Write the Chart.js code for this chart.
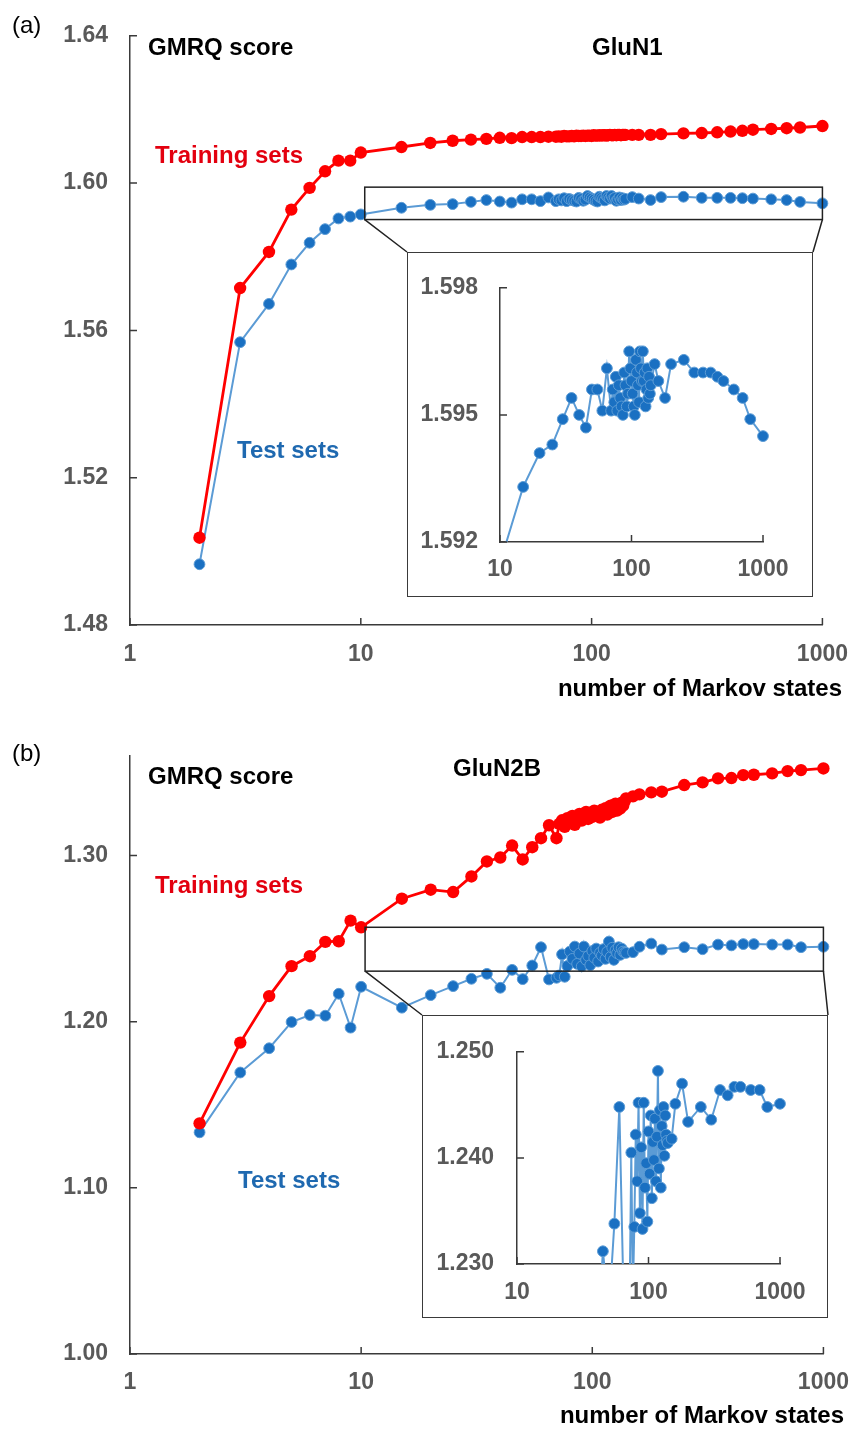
<!DOCTYPE html>
<html>
<head>
<meta charset="utf-8">
<script src="https://cdn.jsdelivr.net/npm/chart.js@4.4.1/dist/chart.umd.min.js"></script>
<style>
  html, body { margin: 0; padding: 0; background: #fff; }
  #page { position: relative; width: 864px; height: 1430px; overflow: hidden; font-family: "Liberation Sans", Arial, sans-serif; }
  canvas { position: absolute; }
  .frame { position: absolute; box-sizing: border-box; border: 1.5px solid #3a3a3a; background: #fff; }
  .txt { position: absolute; font-size: 24px; line-height: 24px; font-weight: bold; white-space: nowrap; }
</style>
</head>
<body>
<div id="page">
  <canvas id="mainA" width="864" height="700" style="left:0;top:0"></canvas>
  <canvas id="mainB" width="864" height="710" style="left:0;top:720px"></canvas>
  <div class="frame" style="left:407px;top:252px;width:406px;height:345px"></div>
  <canvas id="insetA" width="406" height="345" style="left:407px;top:252px"></canvas>
  <div class="frame" style="left:422px;top:1015px;width:406px;height:303px"></div>
  <canvas id="insetB" width="406" height="303" style="left:422px;top:1015px"></canvas>

  <div class="txt" style="left:12px;top:13px;font-weight:normal;color:#000">(a)</div>
  <div class="txt" style="left:148px;top:35px;color:#000">GMRQ score</div>
  <div class="txt" style="left:592px;top:35px;color:#000">GluN1</div>
  <div class="txt" style="left:155px;top:143px;color:#e3000f">Training sets</div>
  <div class="txt" style="left:237px;top:438px;color:#1f69b0">Test sets</div>
  <div class="txt" style="right:22px;top:676px;color:#000">number of Markov states</div>

  <div class="txt" style="left:12px;top:741px;font-weight:normal;color:#000">(b)</div>
  <div class="txt" style="left:148px;top:764px;color:#000">GMRQ score</div>
  <div class="txt" style="left:453px;top:756px;color:#000">GluN2B</div>
  <div class="txt" style="left:155px;top:873px;color:#e3000f">Training sets</div>
  <div class="txt" style="left:238px;top:1168px;color:#1f69b0">Test sets</div>
  <div class="txt" style="right:20px;top:1403px;color:#000">number of Markov states</div>
</div>
<script>
// number of Markov states (shared by all series)
const states = [2, 3, 4, 5, 6, 7, 8, 9, 10, 15, 20, 25, 30, 35, 40, 45, 50, 55, 60, 65, 70,
  72, 74, 76, 78, 80, 82, 84, 86, 88, 90, 92, 94, 96, 98, 100, 102, 104, 106, 108, 110,
  112, 114, 116, 118, 120, 122, 124, 126, 128, 130, 132, 134, 136, 138,
  140, 150, 160, 180, 200, 250, 300, 350, 400, 450, 500, 600, 700, 800, 1000];

const glun1Train = [1.5037, 1.5715, 1.5813, 1.5928, 1.5987, 1.6032, 1.6061, 1.6061, 1.6083, 1.6098,
  1.6109, 1.6115, 1.6118, 1.6120, 1.6123, 1.6122, 1.6125, 1.6125, 1.6125, 1.6126, 1.6126,
  1.6127, 1.6126, 1.6128, 1.6127, 1.6127, 1.6128, 1.6127, 1.6129, 1.6128, 1.6128, 1.6129, 1.6128,
  1.6129, 1.6129, 1.6128, 1.6130, 1.6129, 1.6129, 1.6130, 1.6129, 1.6130, 1.6130, 1.6129, 1.6130,
  1.6131, 1.6130, 1.6130, 1.6131, 1.6130, 1.6131, 1.6131, 1.6130, 1.6131, 1.6131,
  1.6131, 1.6131, 1.6131, 1.6131, 1.6133, 1.6135, 1.6136, 1.6138, 1.6140, 1.6142, 1.6145, 1.6147,
  1.6149, 1.6151, 1.6155];

const glun1Test = [1.4965, 1.5568, 1.5672, 1.5779, 1.5838, 1.5875, 1.5904, 1.5909, 1.5915, 1.5933,
  1.5941, 1.5943, 1.5949, 1.5954, 1.5950, 1.5947, 1.5956, 1.5956, 1.5951, 1.5961, 1.5951,
  1.5956, 1.5953, 1.5959, 1.5951, 1.5957, 1.5954, 1.5952, 1.5950, 1.5960, 1.5957, 1.5952, 1.5955,
  1.5965, 1.5961, 1.5958, 1.5955, 1.5952, 1.5950, 1.5963, 1.5960, 1.5957, 1.5953, 1.5965, 1.5961,
  1.5958, 1.5965, 1.5958, 1.5960, 1.5952, 1.5956, 1.5961, 1.5954, 1.5959, 1.5955,
  1.5957, 1.5962, 1.5958, 1.5954, 1.5962, 1.5963, 1.5960, 1.5960, 1.5960, 1.5959, 1.5958, 1.5956,
  1.5954, 1.5949, 1.5945];

const glun2bTrain = [1.1388, 1.1874, 1.2154, 1.2334, 1.2394, 1.2480, 1.2484, 1.2608, 1.2568, 1.2740,
  1.2794, 1.2780, 1.2874, 1.2964, 1.2988, 1.3060, 1.2976, 1.3050, 1.3104, 1.3182, 1.3104,
  1.3190, 1.3212, 1.3172, 1.3225, 1.3200, 1.3238, 1.3185, 1.3222, 1.3250, 1.3210, 1.3236, 1.3262,
  1.3220, 1.3248, 1.3232, 1.3270, 1.3240, 1.3258, 1.3228, 1.3275, 1.3252, 1.3284, 1.3246, 1.3268,
  1.3300, 1.3262, 1.3286, 1.3312, 1.3270, 1.3296, 1.3282, 1.3318, 1.3300, 1.3326,
  1.3344, 1.3356, 1.3368, 1.3380, 1.3384, 1.3424, 1.3440, 1.3464, 1.3466, 1.3484, 1.3486, 1.3494,
  1.3508, 1.3514, 1.3524];

const glun2bTest = [1.1334, 1.1694, 1.1840, 1.1998, 1.2040, 1.2036, 1.2168, 1.1964, 1.2210, 1.2084,
  1.2160, 1.2214, 1.2258, 1.2288, 1.2204, 1.2312, 1.2256, 1.2338, 1.2448, 1.2254, 1.2264,
  1.2278, 1.2405, 1.2270, 1.2335, 1.2422, 1.2378, 1.2452, 1.2348, 1.2410, 1.2333, 1.2452, 1.2372,
  1.2395, 1.2340, 1.2425, 1.2385, 1.2440, 1.2362, 1.2415, 1.2398, 1.2437, 1.2378, 1.2420, 1.2482,
  1.2390, 1.2445, 1.2372, 1.2430, 1.2412, 1.2448, 1.2402, 1.2440, 1.2422, 1.2416,
  1.2414, 1.2418, 1.2451, 1.2470, 1.2434, 1.2448, 1.2436, 1.2464, 1.2459, 1.2467, 1.2467, 1.2464,
  1.2464, 1.2448, 1.2451];

const mainXTicks = [1, 10, 100, 1000];
const insetXTicks = [10, 100, 1000];
const glun1YTicks = [1.48, 1.52, 1.56, 1.60, 1.64];
const glun2bYTicks = [1.00, 1.10, 1.20, 1.30];
const glun1InsetYTicks = [1.592, 1.595, 1.598];
const glun2bInsetYTicks = [1.230, 1.240, 1.250];

const FONT = "'Liberation Sans', Arial, sans-serif";
const AXIS = "#3a3a3a";
const toPoints = (ys) => states.map((n, i) => ({ x: n, y: ys[i] }));

// tick marks point into the plot, so they are drawn by hand
const innerTicks = {
  id: "innerTicks",
  afterDatasetsDraw(chart) {
    const { ctx, chartArea: a, scales: { x, y } } = chart;
    ctx.save();
    ctx.strokeStyle = AXIS;
    ctx.lineWidth = 1.5;
    ctx.beginPath();
    x.ticks.forEach((t) => {
      const px = x.getPixelForValue(t.value);
      ctx.moveTo(px, a.bottom);
      ctx.lineTo(px, a.bottom - 7);
    });
    y.ticks.forEach((t) => {
      const py = y.getPixelForValue(t.value);
      ctx.moveTo(a.left, py);
      ctx.lineTo(a.left + 7, py);
    });
    ctx.stroke();
    ctx.restore();
  }
};

// rectangle around the zoomed range plus the two lines down to the inset frame
const zoomBox = {
  id: "zoomBox",
  afterDatasetsDraw(chart, args, opts) {
    if (!opts || !opts.box) return;
    const { ctx, scales: { x, y } } = chart;
    const b = opts.box, f = opts.frame;
    const l = x.getPixelForValue(b.x0), r = x.getPixelForValue(b.x1);
    const t = y.getPixelForValue(b.y1), btm = y.getPixelForValue(b.y0);
    ctx.save();
    ctx.strokeStyle = "#222";
    ctx.lineWidth = 1.5;
    ctx.strokeRect(l, t, r - l, btm - t);
    ctx.beginPath();
    ctx.moveTo(l, btm);
    ctx.lineTo(f.left, f.top);
    ctx.moveTo(r, btm);
    ctx.lineTo(f.right, f.top);
    ctx.stroke();
    ctx.restore();
  }
};

const trainStyle = {
  borderColor: "#ff0000", backgroundColor: "#ff0000",
  pointBackgroundColor: "#ff0000", pointBorderColor: "#ff0000",
  borderWidth: 2.8, pointRadius: 6.2, pointBorderWidth: 0
};
const testStyle = {
  borderColor: "#5b9bd5", backgroundColor: "#1a70c2",
  pointBackgroundColor: "#1a70c2", pointBorderColor: "#5b9bd5",
  borderWidth: 2, pointRadius: 5.4, pointBorderWidth: 1
};

const buildChart = (id, cfg) => new Chart(document.getElementById(id), {
  type: "line",
  data: { datasets: cfg.datasets },
  options: {
    responsive: false,
    animation: false,
    layout: { padding: cfg.padding },
    plugins: {
      legend: { display: false },
      tooltip: { enabled: false },
      zoomBox: cfg.zoomBox || {}
    },
    scales: {
      x: {
        type: "logarithmic",
        min: cfg.xTicks[0],
        max: cfg.xTicks[cfg.xTicks.length - 1],
        grid: { display: false, drawTicks: false },
        border: { display: true, color: AXIS, width: 1.5 },
        afterBuildTicks: (s) => { s.ticks = cfg.xTicks.map((v) => ({ value: v })); },
        afterFit: (s) => { s.height = cfg.xHeight; },
        ticks: {
          autoSkip: false, maxRotation: 0, padding: cfg.xPad,
          color: "#595959", font: { family: FONT, size: 23, weight: "bold" },
          callback: (v) => String(v)
        }
      },
      y: {
        type: "linear",
        min: cfg.yTicks[0],
        max: cfg.yMax,
        grid: { display: false, drawTicks: false },
        border: { display: true, color: AXIS, width: 1.5 },
        afterBuildTicks: (s) => { s.ticks = cfg.yTicks.map((v) => ({ value: v })); },
        afterFit: (s) => { s.width = cfg.yWidth; },
        ticks: {
          padding: cfg.yPad,
          color: "#595959", font: { family: FONT, size: 23, weight: "bold" },
          callback: (v) => Number(v).toFixed(cfg.digits)
        }
      }
    }
  },
  plugins: [innerTicks, zoomBox]
});

const mainSets = (train, test) => [
  { data: toPoints(train), clip: false, ...trainStyle },
  { data: toPoints(test), clip: false, ...testStyle }
];
const insetSets = (test) => [
  { data: toPoints(test), clip: { left: 0, top: 0, right: 10, bottom: 0 }, ...testStyle }
];

buildChart("mainA", {
  datasets: mainSets(glun1Train, glun1Test),
  xTicks: mainXTicks, yTicks: glun1YTicks, yMax: 1.64, digits: 2,
  padding: { left: 0, top: 25, right: 28, bottom: 0 },
  yWidth: 130, xHeight: 75, xPad: 16, yPad: 22,
  zoomBox: {
    box: { x0: 10.4, x1: 1000, y0: 1.5901, y1: 1.5989 },
    frame: { left: 407, top: 252, right: 813 }
  }
});

buildChart("mainB", {
  datasets: mainSets(glun2bTrain, glun2bTest),
  xTicks: mainXTicks, yTicks: glun2bYTicks, yMax: 1.36, digits: 2,
  padding: { left: 0, top: 35, right: 28, bottom: 0 },
  yWidth: 130, xHeight: 76, xPad: 15, yPad: 22,
  zoomBox: {
    box: { x0: 10.4, x1: 1000, y0: 1.2304, y1: 1.2568 },
    frame: { left: 422, top: 295, right: 828 }
  }
});

buildChart("insetA", {
  datasets: insetSets(glun1Test),
  xTicks: insetXTicks, yTicks: glun1InsetYTicks, yMax: 1.598, digits: 3,
  padding: { left: 0, top: 23, right: 50, bottom: 0 },
  yWidth: 93, xHeight: 55, xPad: 14, yPad: 22
});

buildChart("insetB", {
  datasets: insetSets(glun2bTest),
  xTicks: insetXTicks, yTicks: glun2bInsetYTicks, yMax: 1.250, digits: 3,
  padding: { left: 0, top: 24, right: 48, bottom: 0 },
  yWidth: 95, xHeight: 54, xPad: 15, yPad: 23
});
</script>
</body>
</html>
